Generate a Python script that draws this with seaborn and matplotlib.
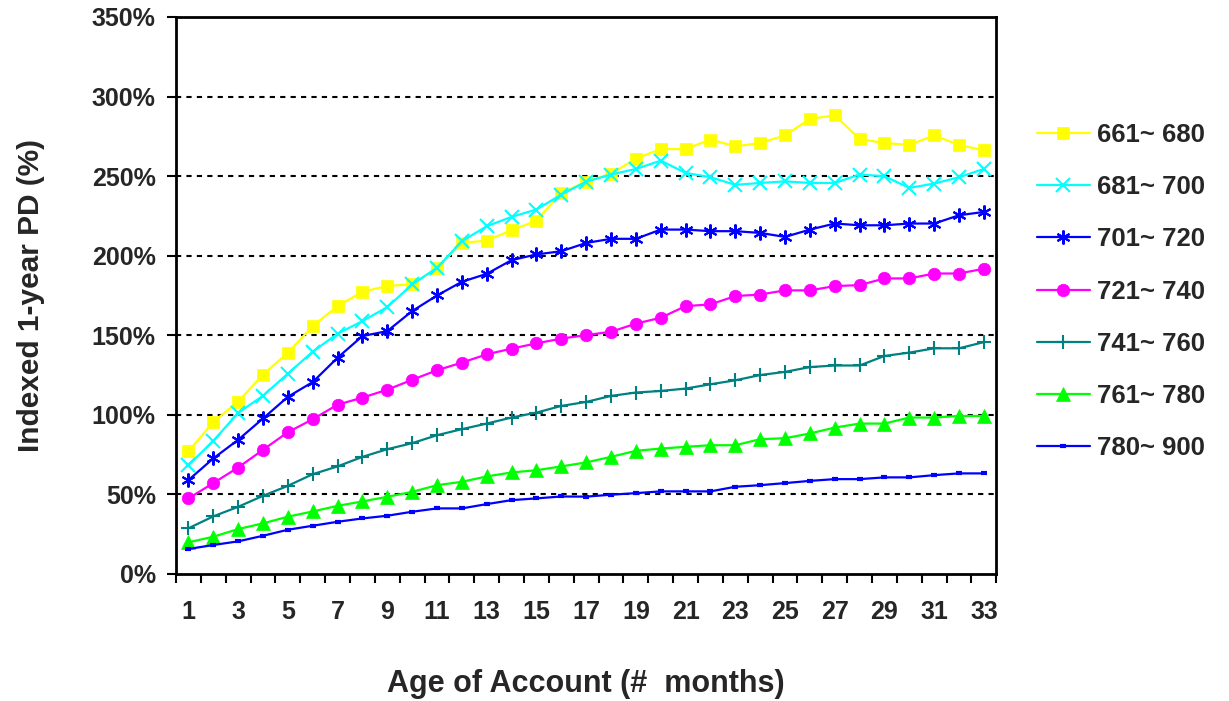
import numpy as np
import pandas as pd
import matplotlib
matplotlib.use("Agg")
import matplotlib.pyplot as plt
from matplotlib.ticker import FixedLocator, FuncFormatter
import seaborn as sns

# Idade da conta (meses) e PD indexada (%) por faixa de score
months = list(range(1, 34))
labels = ["661~ 680", "681~ 700", "701~ 720", "721~ 740", "741~ 760", "761~ 780", "780~ 900"]

pd_661_680 = [77, 95.5, 108.3, 125.3, 139, 155.8, 168.3, 177.3, 181, 182, 192.2, 208, 209.5, 216, 222, 239.5,
              246.5, 251.4, 261, 267, 267, 273, 268.7, 270.8, 275.6, 285.9, 288.2, 273.3, 270.8, 269.6, 275.6,
              269.6, 266.2]
pd_681_700 = [68.4, 83.6, 101.2, 112, 125.9, 139.7, 151, 158.9, 167.7, 181.9, 192.4, 209.1, 218.5, 224.4, 229,
              238.4, 246.5, 251, 254.5, 259.7, 252, 249.3, 244.5, 245.7, 246.7, 245.7, 245.7, 251, 249.9, 242.6,
              245.3, 249.3, 254.5]
pd_701_720 = [59, 72.6, 84.3, 97.7, 111.3, 120.6, 135.9, 149.5, 152.6, 165.2, 175, 183.6, 188.6, 197.2, 200.8,
              202.8, 208, 210.6, 210.6, 216.4, 216.4, 215.4, 215.4, 214.3, 211.8, 216.4, 220.2, 219.1, 219.1,
              220.2, 220.2, 225.4, 227.5]
pd_721_740 = [47.5, 57.1, 66.9, 78, 89.1, 97.2, 106.4, 110.8, 115.8, 122, 128, 132.8, 138, 141.6, 144.9, 147.9,
              150.1, 152.2, 157.3, 161, 168.3, 169.4, 174.6, 175.6, 178.2, 178.2, 180.9, 181.5, 185.7, 185.7,
              188.8, 188.8, 191.8]
pd_741_760 = [28.7, 36.2, 42.2, 49.1, 55.4, 62.7, 67.6, 73.6, 78.4, 82.2, 87.2, 91, 94.5, 98.3, 101.4, 105.6,
              108.1, 111.9, 114, 115, 116.5, 119.2, 121.7, 125, 127, 130, 131, 131, 137, 139.1, 141.8, 141.8,
              145.7]
pd_761_780 = [19.9, 23.4, 28.2, 31.8, 36, 39.3, 42.8, 45.6, 48.5, 51.6, 55.8, 57.9, 61.3, 63.8, 65.2, 67.6, 70.1,
              73.6, 77.4, 78.8, 79.9, 80.9, 80.9, 84.7, 85.3, 88.3, 92, 94.5, 94.5, 98.3, 98.3, 99.3, 99.3]
pd_780_900 = [15.7, 18.2, 20.5, 24, 27.8, 30.3, 32.8, 34.9, 36.6, 39.1, 41.2, 41.2, 43.9, 46.4, 47.5, 48.7, 48.6,
              49.8, 50.8, 51.9, 51.9, 51.9, 54.8, 55.8, 57.1, 58.5, 59.6, 59.6, 60.7, 60.7, 62.1, 63.2, 63.2]

series = [pd_661_680, pd_681_700, pd_701_720, pd_721_740, pd_741_760, pd_761_780, pd_780_900]
colors = ["#FFFF00", "#00FFFF", "#0000FF", "#FF00FF", "#008080", "#00FF00", "#0000FF"]
markers = ["s", "x", (6, 2, 0), "o", "+", "^", "_"]
msizes = [8.5, 10, 10, 9, 10, 9.5, 4]
mews = [0.5, 1.5, 1.5, 0.5, 1.5, 0.5, 3]

sns.set_style("white")
plt.rcParams["font.family"] = ["Liberation Sans", "DejaVu Sans"]
plt.rcParams["font.weight"] = "bold"

fig = plt.figure(figsize=(12.29, 7.01), dpi=100)
ax = fig.add_axes([0.1432, 0.1812, 0.6675, 0.7946])

for lab, vals, c, m, ms, mew in zip(labels, series, colors, markers, msizes, mews):
    df = pd.DataFrame({"month": months, "pd": vals})
    sns.lineplot(data=df, x="month", y="pd", ax=ax, color=c, marker=m, markersize=ms,
                 markeredgecolor=c, markerfacecolor=c, markeredgewidth=mew,
                 linewidth=1.6, label=lab)

ax.set_xlim(0.5, 33.5)
ax.set_ylim(0, 350)
ax.set_yticks(np.arange(0, 351, 50))
ax.yaxis.set_major_formatter(FuncFormatter(lambda v, p: f"{int(v)}%"))
ax.set_xticks(months[::2])
ax.xaxis.set_minor_locator(FixedLocator(np.arange(0.5, 34, 1)))

for y in range(50, 301, 50):
    ax.axhline(y, color="black", linewidth=1.5, linestyle=(0, (2.5, 2.5)), zorder=0)

for s in ax.spines.values():
    s.set_visible(True)
    s.set_color("black")
    s.set_linewidth(2)

ax.tick_params(axis="y", which="major", direction="out", length=6.5, width=1.5, pad=8,
               labelsize=18, left=True, color="black")
ax.tick_params(axis="x", which="major", length=0, pad=19, labelsize=18)
ax.tick_params(axis="x", which="minor", direction="out", length=6.5, width=1.5,
               bottom=True, color="black")
for t in ax.get_xticklabels() + ax.get_yticklabels():
    t.set_fontweight("bold")

ax.set_xlabel("Age of Account (#  months)", fontsize=22, fontweight="bold", labelpad=32)
ax.set_ylabel("Indexed 1-year PD (%)", fontsize=21.5, fontweight="bold", labelpad=34)

ax.legend(loc="upper left", bbox_to_anchor=(0.8354, 0.8395), bbox_transform=fig.transFigure,
          frameon=False, handlelength=2.06, labelspacing=1.1,
          handletextpad=0.28, borderaxespad=0, prop={"weight": "bold", "size": 18.5})

fig.savefig("out.png", dpi=100)
